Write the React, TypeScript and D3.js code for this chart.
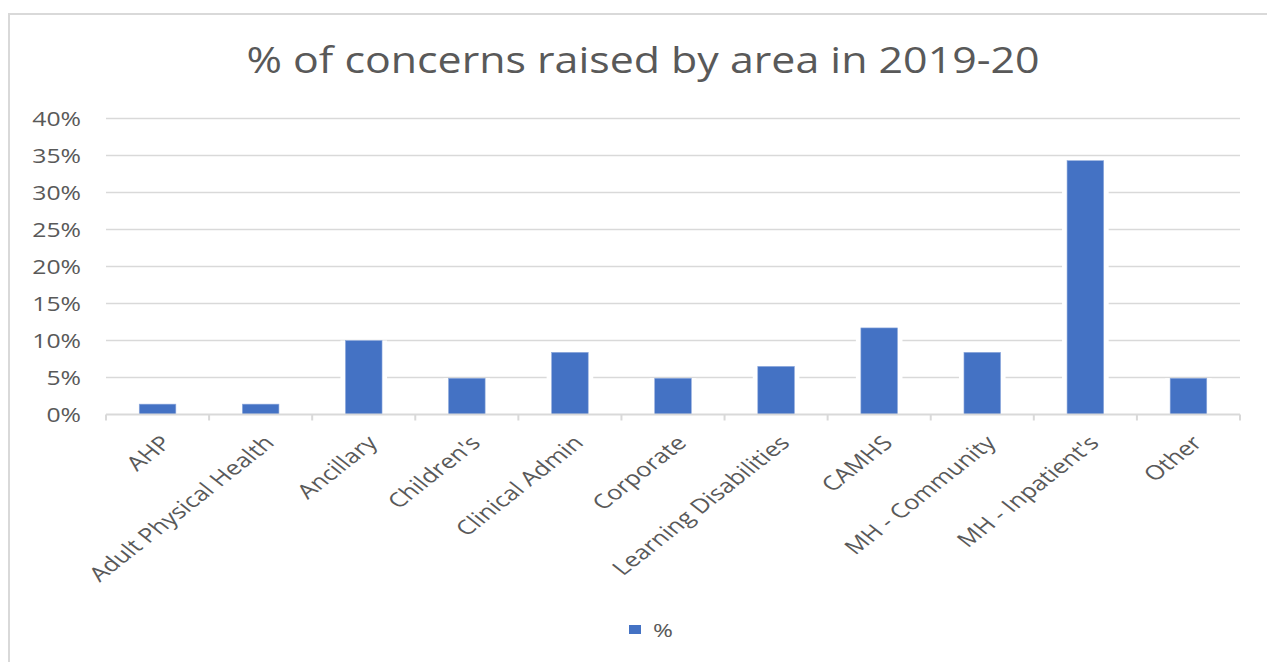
import React from "react";
import * as d3 from "d3";

const categories = [
  "AHP",
  "Adult Physical Health",
  "Ancillary",
  "Children's",
  "Clinical Admin",
  "Corporate",
  "Learning Disabilities",
  "CAMHS",
  "MH - Community",
  "MH - Inpatient's",
  "Other",
];
const values = [1.4, 1.4, 10.0, 4.9, 8.4, 4.9, 6.5, 11.7, 8.4, 34.3, 4.9];
const yTicks = [0, 5, 10, 15, 20, 25, 30, 35, 40];
const title = "% of concerns raised by area in 2019-20";
const seriesName = "%";

const W = 1267;
const H = 662;
const FONT = "'Open Sans', 'Noto Sans', sans-serif";
const TEXT = "#595959";
const GRID = "#d9d9d9";
const BAR = "#4472C4";
const SX = 1.27;

export default function App() {
  const x = d3
    .scaleBand<string>()
    .domain(categories)
    .range([106, 1240])
    .paddingInner(0.645)
    .paddingOuter(0.3225);
  const step = x.step();
  const y = d3.scaleLinear().domain([0, 40]).range([414.5, 118.5]);
  const fmt = (v: number) => `${v}%`;

  return (
    <svg
      width={W}
      height={H}
      style={{ position: "absolute", left: 0, top: 0, background: "#fff" }}
      fontFamily={FONT}
    >
      <rect x={0} y={0} width={W} height={H} fill="#fff" />
      <rect x={9} y={14} width={1290} height={700} fill="none" stroke={GRID} strokeWidth={2} />

      <text
        x={643}
        y={73}
        textAnchor="middle"
        fontSize={37}
        fill={TEXT}
        textLength={793}
        lengthAdjust="spacingAndGlyphs"
      >
        {title}
      </text>

      {yTicks.map((t) => (
        <g key={t}>
          {t > 0 && (
            <line x1={106} x2={1240} y1={y(t)} y2={y(t)} stroke={GRID} strokeWidth={1.5} />
          )}
          <text
            transform={`translate(81,${y(t)}) scale(${SX},1)`}
            textAnchor="end"
            dy="0.36em"
            fontSize={19.5}
            fill={TEXT}
          >
            {fmt(t)}
          </text>
        </g>
      ))}

      {categories.map((c, i) => (
        <rect
          key={"bg" + c}
          x={(x(c) as number) - 5}
          y={y(values[i])}
          width={x.bandwidth() + 10}
          height={y(0) - y(values[i])}
          fill="#fff"
        />
      ))}
      {categories.map((c, i) => (
        <rect
          key={c}
          x={x(c) as number}
          y={y(values[i])}
          width={x.bandwidth()}
          height={y(0) - y(values[i])}
          fill={BAR}
          stroke="#8faadc"
          strokeWidth={0.6}
        />
      ))}

      <line x1={106} x2={1240} y1={y(0)} y2={y(0)} stroke={GRID} strokeWidth={2} />
      {d3.range(categories.length + 1).map((k) => (
        <line
          key={"t" + k}
          x1={106 + k * step}
          x2={106 + k * step}
          y1={y(0)}
          y2={y(0) + 6}
          stroke={GRID}
          strokeWidth={2}
        />
      ))}

      {categories.map((c) => {
        const cx = (x(c) as number) + x.bandwidth() / 2 + 2;
        return (
          <text
            key={"l" + c}
            transform={`translate(${cx},434) scale(${SX},1) rotate(-45)`}
            textAnchor="end"
            dy="0.72em"
            fontSize={20}
            fill={TEXT}
          >
            {c}
          </text>
        );
      })}

      <rect x={629} y={625} width={12} height={9} fill={BAR} />
      <text
        transform={`translate(653,630) scale(${SX},1)`}
        dy="0.36em"
        fontSize={19}
        fill={TEXT}
      >
        {seriesName}
      </text>
    </svg>
  );
}
